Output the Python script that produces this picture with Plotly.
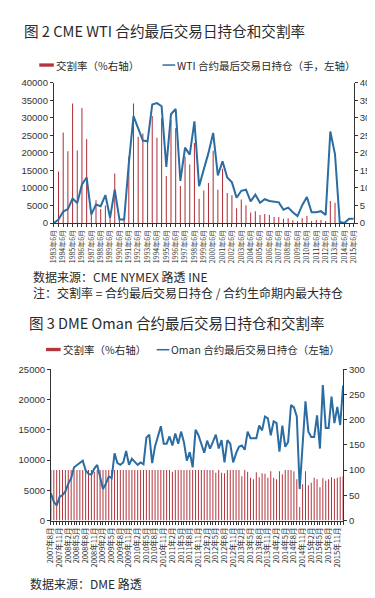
import plotly.graph_objects as go

W, H = 375, 598

# ---------------- Chart 1 data (semi-annual, 1983/6 .. 2015/6) ----------------
wti_open_interest = [
    0, 1000, 3300, 4000, 7000, 5700, 11000, 13000, 2500, 5300,
    4800, 8000, 1500, 9500, 1000, 1000, 17000, 30500, 27000, 23500,
    23300, 33800, 34200, 33300, 16000, 31000, 32500, 12000, 21500, 19500,
    29000, 10500, 15300, 20000, 25700, 13600, 17600, 13000, 11600, 7200,
    9200, 9500, 6200, 8100, 5800, 6800, 6300, 6000, 5900, 3800,
    4400, 3100, 2000, 5100, 7400, 3100, 3100, 3400, 2300, 26100,
    19600, 300, 0, 1200, 1200,
]
wti_delivery_rate = [
    0, 14.7, 25.8, 20.5, 34.1, 20.7, 32.8, 23.9, 3, 6.5,
    4, 5, 2, 14.1, 1, 1, 19.0, 34.1, 24.6, 25.5,
    23.2, 30.5, 24.3, 29.9, 13.4, 29.3, 27, 10.6, 19, 16.7,
    22.8, 6.9, 9.3, 11.4, 20.6, 9.5, 15.5, 8.6, 7.9, 4.2,
    6.7, 5.1, 3.0, 3.4, 2.3, 2.6, 2.3, 1.7, 1.7, 1.2,
    1.4, 0.8, 0.6, 1.4, 2.0, 0.6, 0.9, 0.9, 0.6, 6.3,
    5.8, 0, 0, 0, 0,
]
wti_tick_labels = [
    "1983年6月", "1984年6月", "1985年6月", "1986年6月", "1987年6月", "1988年6月",
    "1989年6月", "1990年6月", "1991年6月", "1992年6月", "1993年6月", "1994年6月",
    "1995年6月", "1996年6月", "1997年6月", "1998年6月", "1999年6月", "2000年6月",
    "2001年6月", "2002年6月", "2003年6月", "2004年6月", "2005年6月", "2006年6月",
    "2007年6月", "2008年6月", "2009年6月", "2010年6月", "2011年6月", "2012年6月",
    "2013年6月", "2014年6月", "2015年6月",
]

# ---------------- Chart 2 data (monthly, 2007/8 .. 2016/1) ----------------
oman_open_interest_k = [
    4.5, 3.1, 2.5, 3.9, 4.2, 4.8, 6.1, 7.0, 8.8, 9.2,
    9.5, 9.9, 8.3, 7.7, 7.6, 8.6, 9.2, 6.9, 5.2, 6.1,
    7.3, 7.0, 11.1, 9.5, 9.2, 9.6, 11.5, 9.2, 10.2, 9.7,
    9.2, 9.6, 9.3, 13.7, 14.2, 9.5, 12.3, 13.9, 15.6, 12.7,
    12.7, 13.9, 12.4, 14.4, 12.7, 14.7, 12.9, 9.9, 11.3, 8.8,
    15.0, 14.1, 12.6, 11.2, 13.2, 11.9, 13.0, 14.2, 11.9, 13.3,
    9.6, 13.3, 12.7, 9.6, 11.1, 12.2, 12.4, 11.7, 14.7, 13.6,
    13.6, 13.6, 15.7, 14.9, 17.2, 16.9, 14.1, 16.4, 16.1, 11.4,
    15.7, 12.2, 13.0, 19.1, 18.7, 17.2, 5.2, 12.5, 19.7, 14.7,
    13.8, 13.8, 17.4, 11.9, 22.4, 15.3, 15.3, 20.5, 16.1, 18.8,
    15.8, 22.3,
]
oman_delivery_rate = [
    100, 100, 100, 100, 100, 100, 100, 100, 100, 100,
    100, 100, 100, 100, 100, 97, 100, 100, 100, 100,
    100, 100, 100, 100, 100, 100, 100, 100, 100, 100,
    100, 100, 100, 100, 100, 100, 100, 100, 100, 100,
    100, 100, 97, 100, 100, 100, 100, 100, 100, 100,
    100, 100, 100, 100, 100, 100, 100, 95, 100, 95,
    94, 100, 100, 100, 100, 100, 88, 100, 97, 85,
    82, 96, 86, 94, 93, 85, 98, 85, 82, 98,
    92, 100, 100, 100, 98, 82, 27, 72, 98, 70,
    75, 85, 82, 66, 84, 79, 82, 86, 83, 85,
    87, 88,
]
oman_tick_labels = [
    "2007年8月", "2007年11月", "2008年2月", "2008年5月", "2008年8月", "2008年11月",
    "2009年2月", "2009年5月", "2009年8月", "2009年11月", "2010年2月", "2010年5月",
    "2010年8月", "2010年11月", "2011年2月", "2011年5月", "2011年8月", "2011年11月",
    "2012年2月", "2012年5月", "2012年8月", "2012年11月", "2013年2月", "2013年5月",
    "2013年8月", "2013年11月", "2014年2月", "2014年5月", "2014年8月", "2014年11月",
    "2015年2月", "2015年5月", "2015年8月", "2015年11月",
]

RED = "#b3353d"
RED_BAR = "rgba(176,48,56,0.99)"
BLUE = "#2b6ca2"
AX = "#333333"
CJK = "Noto Sans CJK SC"
NUMF = "Liberation Sans"

x1 = list(range(len(wti_open_interest)))
x2 = list(range(len(oman_open_interest_k)))
oman_open_interest = [v * 1000 for v in oman_open_interest_k]

def px_x(p):
    return p / W

def px_y(p):
    return 1 - p / H

fig = go.Figure()
fig.add_trace(go.Bar(x=x1, y=wti_delivery_rate, xaxis="x", yaxis="y",
                     marker=dict(color=RED_BAR, line=dict(width=0)), width=0.22,
                     name="交割率（%右轴）", showlegend=False))
fig.add_trace(go.Scatter(x=x1, y=wti_open_interest, xaxis="x", yaxis="y2",
                         mode="lines", line=dict(color=BLUE, width=2),
                         name="WTI 合约最后交易日持仓（手，左轴）", showlegend=False))
fig.add_trace(go.Bar(x=x2, y=oman_delivery_rate, xaxis="x2", yaxis="y3",
                     marker=dict(color=RED_BAR, line=dict(width=0)), width=0.34,
                     name="交割率（%右轴）", showlegend=False))
fig.add_trace(go.Scatter(x=x2, y=oman_open_interest, xaxis="x2", yaxis="y4",
                         mode="lines", line=dict(color=BLUE, width=2),
                         name="Oman 合约最后交易日持仓（左轴）", showlegend=False))

tick1_vals = x1
tick1_text = [wti_tick_labels[i // 2] if i % 2 == 0 else "" for i in x1]
tick2_vals = x2
tick2_text = [oman_tick_labels[i // 3] if i % 3 == 0 and i // 3 < len(oman_tick_labels) else "" for i in x2]

axis_common = dict(showgrid=False, zeroline=False, showline=True, linecolor=AX,
                   linewidth=1, ticks="outside", ticklen=3, tickcolor=AX, tickwidth=1)

fig.update_layout(
    width=W, height=H, margin=dict(l=0, r=0, t=0, b=0),
    paper_bgcolor="white", plot_bgcolor="white",
    xaxis=dict(domain=[px_x(40), px_x(349)], anchor="y", range=[0, len(x1) - 1],
               tickmode="array", tickvals=tick1_vals, ticktext=tick1_text,
               tickangle=-90, tickfont=dict(family=CJK, size=7, color=AX), **axis_common),
    yaxis=dict(domain=[px_y(213), px_y(70)], anchor="x", side="right", range=[0, 40],
               tickmode="linear", tick0=0, dtick=5,
               tickfont=dict(family=NUMF, size=9.5, color=AX), **axis_common),
    yaxis2=dict(overlaying="y", anchor="x", side="left", range=[0, 40000],
                tickmode="linear", tick0=0, dtick=5000, tickformat="d",
                tickfont=dict(family=NUMF, size=9.5, color=AX), **axis_common),
    xaxis2=dict(domain=[px_x(37), px_x(338)], anchor="y3", range=[0, len(x2) - 1],
                tickmode="array", tickvals=tick2_vals, ticktext=tick2_text,
                tickangle=-90, tickfont=dict(family=CJK, size=7.5, color=AX), **axis_common),
    yaxis3=dict(domain=[px_y(516), px_y(362)], anchor="x2", side="right", range=[0, 300],
                tickmode="linear", tick0=0, dtick=50,
                tickfont=dict(family=NUMF, size=9.5, color=AX), **axis_common),
    yaxis4=dict(overlaying="y3", anchor="x2", side="left", range=[0, 25000],
                tickmode="linear", tick0=0, dtick=5000, tickformat="d",
                tickfont=dict(family=NUMF, size=9.5, color=AX), **axis_common),
)

annotations = []
shapes = []

def text(px, py, s, size, family=CJK, color="#2a2a2a"):
    annotations.append(dict(x=px_x(px), y=px_y(py), xref="paper", yref="paper",
                            text=s, showarrow=False, xanchor="left", yanchor="middle",
                            align="left", borderpad=0,
                            font=dict(family=family, size=size, color=color)))

# Titles
text(8, 17, "图 2 CME WTI 合约最后交易日持仓和交割率", 14.6)
text(13, 314, "图 3 DME Oman 合约最后交易日持仓和交割率", 14.5)

# Legends (manual)
shapes.append(dict(type="rect", xref="paper", yref="paper", x0=px_x(25), x1=px_x(40),
                   y0=px_y(53.7), y1=px_y(50.3), fillcolor=RED, line=dict(width=0)))
text(41, 52, "交割率（%右轴）", 10.5)
shapes.append(dict(type="line", xref="paper", yref="paper", x0=px_x(152), x1=px_x(165),
                   y0=px_y(52), y1=px_y(52), line=dict(color=BLUE, width=1.5)))
text(166, 52, "WTI 合约最后交易日持仓（手，左轴）", 10.5)

shapes.append(dict(type="rect", xref="paper", yref="paper", x0=px_x(32), x1=px_x(47),
                   y0=px_y(343.5), y1=px_y(340.1), fillcolor=RED, line=dict(width=0)))
text(48, 342, "交割率（%右轴）", 10.5)
shapes.append(dict(type="line", xref="paper", yref="paper", x0=px_x(146), x1=px_x(159),
                   y0=px_y(342), y1=px_y(342), line=dict(color=BLUE, width=1.5)))
text(160, 342, "Oman 合约最后交易日持仓（左轴）", 10.5)

# Source notes (one two-line block, as in the reference)
text(17, 276,
     "数据来源：CME NYMEX 路透 INE<br>注：交割率 = 合约最后交易日持仓 / 合约生命期内最大持仓",
     12)
text(14, 580, "数据来源：DME 路透", 12)

fig.update_layout(annotations=annotations, shapes=shapes)

fig.write_html("out.html")
